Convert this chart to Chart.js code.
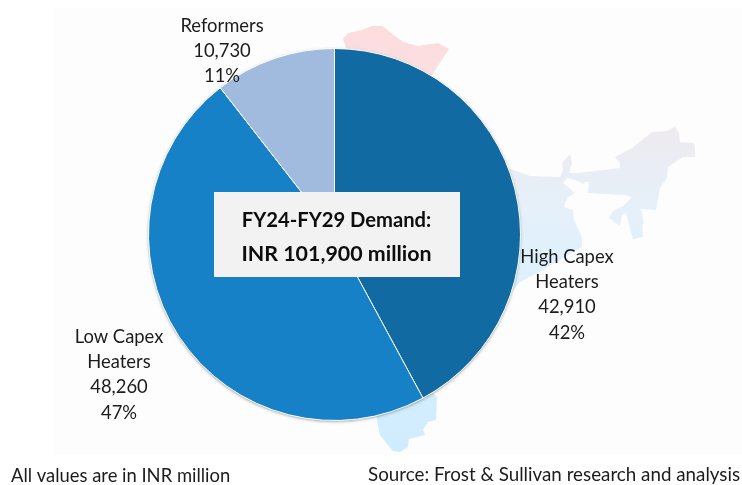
<!DOCTYPE html>
<html><head><meta charset="utf-8">
<style>html,body{margin:0;padding:0;background:#fff}#w{position:relative;width:742px;height:485px}canvas{display:block}</style>
<script src="https://cdn.jsdelivr.net/npm/chart.js@4"></script>
</head><body><div id="w"><canvas id="c" width="742" height="485"></canvas></div>
<script>
const categories = [["High Capex","Heaters"],["Low Capex","Heaters"],["Reformers"]];
const values = [42910,48260,10730];
const shares = ["42%","47%","11%"];
const sliceColors = ["#126aa2","#1681c6","#a0bbdd"];
const centerLines = ["FY24-FY29 Demand:","INR 101,900 million"];
const noteLeft = "All values are in INR million";
const noteRight = "Source: Frost & Sullivan research and analysis";

const FONT='Lato, sans-serif';
const mapNorth=[[343,39],[348,33],[362,30],[372,26],[382,26],[403,42],[418,46],[438,43],[449,49],[432,75],[400,75],[350,60]];
const mapEast=[[508,168],[530,176],[560,177],[563,170],[562,163],[570,154],[572,163],[569,173],[578,173],[620,168],[620,163],[615,157],[632,148],[652,132],[667,131],[675,127],[679,133],[680,142],[693,143],[695,147],[695,157],[683,157],[668,167],[667,178],[660,188],[656,210],[641,209],[644,223],[642,225],[643,237],[633,239],[626,213],[622,215],[620,226],[609,218],[613,211],[623,206],[632,197],[625,195],[588,193],[589,182],[585,182],[584,184],[575,180],[567,178],[563,183],[575,193],[568,197],[564,207],[573,210],[574,220],[582,238],[582,247],[543,270],[520,282],[513,290],[480,300],[480,200]];
const mapSouth=[[420,380],[437,397],[436,420],[428,422],[423,430],[425,435],[409,439],[408,447],[400,452],[393,451],[388,445],[380,435],[377,420],[377,400]];

const backdrop={id:'backdrop',beforeDraw(ch){
  const x=ch.ctx;x.save();
  x.fillStyle='#fff';x.fillRect(0,0,742,485);
  x.fillStyle='#fdfdfd';x.fillRect(54,8,688,447);
  const g=x.createLinearGradient(0,26,0,450);
  g.addColorStop(0,'#fddcdd');g.addColorStop(0.12,'#fbdfe2');g.addColorStop(0.25,'#eeeaf0');g.addColorStop(0.42,'#e6f0f9');g.addColorStop(0.55,'#dff1fd');g.addColorStop(1,'#cfecfe');
  x.fillStyle=g;
  [mapNorth,mapEast,mapSouth].forEach(p=>{x.beginPath();p.forEach((q,i)=>i?x.lineTo(q[0],q[1]):x.moveTo(q[0],q[1]));x.closePath();x.fill();});
  const a=ch.getDatasetMeta(0).data[0];
  x.shadowColor='rgba(0,0,0,0.4)';x.shadowBlur=3;x.shadowOffsetX=0;x.shadowOffsetY=1;
  x.fillStyle='#fff';x.beginPath();x.arc(a.x,a.y,a.outerRadius,0,Math.PI*2);x.fill();
  x.restore();
}};
const annotate={id:'annotate',afterDraw(ch){
  const x=ch.ctx;x.save();
  x.textAlign='center';x.textBaseline='middle';
  x.fillStyle='#f2f2f2';x.fillRect(214,192,246,85);
  x.fillStyle='#0d0d0d';
  x.font='bold 20.2px '+FONT;x.fillText(centerLines[0],336.5,220);
  x.font='bold 21.4px '+FONT;x.fillText(centerLines[1],336.5,254);
  const at=[[567,257],[119,337],[222,26]];
  x.fillStyle='#1c1c1c';x.font='18.4px '+FONT;
  categories.forEach((c,i)=>{
    const lines=[...c,values[i].toLocaleString('en-US'),shares[i]];
    lines.forEach((t,j)=>x.fillText(t,at[i][0],at[i][1]+j*25.2));
  });
  x.textAlign='left';
  x.font='18.4px '+FONT;x.fillText(noteLeft,11,476);
  x.font='18.8px '+FONT;x.fillText(noteRight,368,475);
  x.restore();
}};
new Chart(document.getElementById('c'),{
  type:'pie',
  data:{labels:categories.map(c=>c.join(' ')),datasets:[{data:values,backgroundColor:sliceColors,borderColor:'#ffffff',borderWidth:1}]},
  options:{responsive:false,animation:false,
    layout:{padding:{left:148,right:221,top:48,bottom:64}},
    plugins:{legend:{display:false},tooltip:{enabled:false},title:{display:false}}},
  plugins:[backdrop,annotate]
});
</script></body></html>
